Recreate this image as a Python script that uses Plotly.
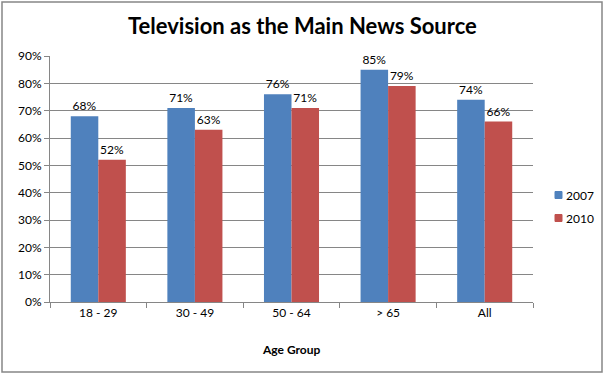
import plotly.graph_objects as go

categories = ["18 - 29", "30 - 49", "50 - 64", "> 65", "All"]
v2007 = [68, 71, 76, 85, 74]
v2010 = [52, 63, 71, 79, 66]
series_names = ["2007", "2010"]
series_colors = ["#4F81BD", "#C0504D"]
tick_vals = [0, 10, 20, 30, 40, 50, 60, 70, 80, 90]
tick_text = [f"{v}%" for v in tick_vals]

W, H = 606, 374
L, R, T, B = 50, 73, 56, 72
pw, ph = W - L - R, H - T - B

font_fam = "Lato, 'Open Sans', Arial, sans-serif"

fig = go.Figure()
for name, vals, col in zip(series_names, [v2007, v2010], series_colors):
    fig.add_trace(go.Bar(x=categories, y=vals, name=name, showlegend=False,
                         marker=dict(color=col, line=dict(width=0)),
                         text=[f"{v}%" for v in vals], textposition="outside",
                         textfont=dict(size=12, color="#000000", family=font_fam),
                         cliponaxis=False))

def px_x(x):
    return (x - L) / pw

def px_y(y):
    return 1 - (y - T) / ph

fig.update_layout(
    width=W, height=H,
    margin=dict(l=L, r=R, t=T, b=B, pad=0, autoexpand=False),
    paper_bgcolor="white", plot_bgcolor="white",
    bargap=0.43, bargroupgap=0,
    font=dict(family=font_fam, size=12, color="#000000"),
    showlegend=False,
    xaxis=dict(showgrid=False, ticks="outside", tickson="boundaries", ticklen=5,
               tickcolor="#868686", showline=True, linecolor="#868686", linewidth=1,
               tickfont=dict(size=12), title=None, automargin=False),
    yaxis=dict(range=[0, 90], tickvals=tick_vals, ticktext=tick_text,
               showgrid=True, gridcolor="#868686", gridwidth=1,
               ticks="outside", ticklen=5, tickcolor="#868686",
               showline=True, linecolor="#868686", linewidth=1,
               tickfont=dict(size=12), zeroline=False, automargin=False),
)

fig.add_annotation(text="<b>Television as the Main News Source</b>", xref="paper", yref="paper",
                   x=px_x(302), y=px_y(26), xanchor="center", yanchor="middle",
                   showarrow=False, font=dict(size=22, family=font_fam))
fig.add_annotation(text="<b>Age Group</b>", xref="paper", yref="paper",
                   x=px_x(291), y=px_y(349), xanchor="center", yanchor="middle",
                   showarrow=False, font=dict(size=12, family=font_fam))

# legend (manual, Excel style)
for i, (name, col) in enumerate(zip(series_names, series_colors)):
    yc = 195 + i * 23
    fig.add_shape(type="rect", xref="paper", yref="paper",
                  x0=px_x(555), x1=px_x(562), y0=px_y(yc - 3.5), y1=px_y(yc + 3.5),
                  line=dict(color=col, width=1), fillcolor=col)
    fig.add_annotation(text=name, xref="paper", yref="paper",
                       x=px_x(564), y=px_y(yc), xanchor="left", yanchor="middle",
                       showarrow=False, font=dict(size=12, family=font_fam))

fig.add_shape(type="rect", xref="paper", yref="paper",
              x0=px_x(2), x1=px_x(602), y0=px_y(2), y1=px_y(372),
              line=dict(color="#868686", width=1.5), fillcolor="rgba(0,0,0,0)", layer="below")

fig.write_html("out.html", config={"displayModeBar": False},
               post_script="document.body.style.margin='0';document.body.style.padding='0';")
